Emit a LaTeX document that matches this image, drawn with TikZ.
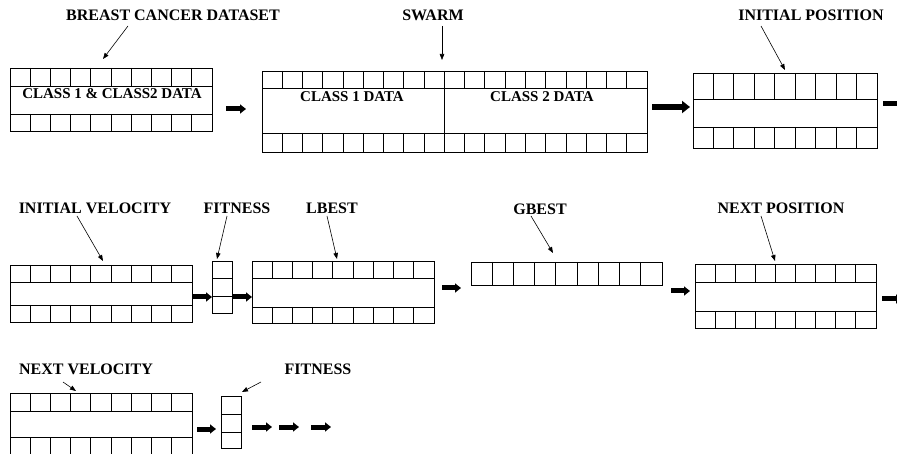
\documentclass[tikz,border=0pt]{standalone}
\usepackage{fontspec}
\setmainfont{Liberation Serif}
\usetikzlibrary{arrows.meta,fit}
\tikzset{
 frame/.style={draw=black, line width=0.9pt},
 cellline/.style={draw=black, line width=0.9pt},
 lbl/.style={font=\fontsize{16}{18}\selectfont\bfseries, inner sep=1pt},
 intext/.style={font=\fontsize{15}{17}\selectfont\bfseries, inner sep=1pt},
 ptr/.style={draw=black, line width=0.6pt, -{Triangle[length=6pt,width=4.5pt]}},
 fat/.style={draw=black, line width=5pt, -{Triangle[length=6pt,width=9pt]}},
 fatbig/.style={draw=black, line width=6.5pt, -{Triangle[length=8pt,width=12pt]}},
}
\newcommand\cellbox[8]{%
 \node[fit={(#2,#3) (#4,#5)}, inner sep=0pt, frame] (#1) {};
 \draw[cellline] (#2,#6) -- (#4,#6) (#2,#7) -- (#4,#7);
 \pgfmathtruncatemacro\nm{#8-1}
 \foreach \i in {1,...,\nm} {
   \pgfmathsetmacro\xx{#2+\i*(#4-#2)/#8}
   \draw[cellline] (\xx,#3) -- (\xx,#6) (\xx,#7) -- (\xx,#5);
 }
}
\begin{document}
\begin{tikzpicture}[x=1pt,y=-1pt]
\clip (0,0) rectangle (897,454);
\fill[white] (0,0) rectangle (897,454);

% ---- row 1 ----
\cellbox{b1}{10}{68}{212}{131}{86}{114}{10}
\node[intext] (t1) at (112,94) {CLASS 1 \& CLASS2 DATA};
\cellbox{b2}{262}{71}{647}{152}{88}{133}{19}
\draw[cellline] (444.4,88) -- (444.4,133);
\node[intext] (t2) at (352,97) {CLASS 1 DATA};
\node[intext] (t3) at (542,97) {CLASS 2 DATA};
\cellbox{b3}{693}{73}{877}{148}{99}{127}{9}

\node[lbl] (l1) at (173,15) {BREAST CANCER DATASET};
\node[lbl] (l2) at (433,15) {SWARM};
\node[lbl] (l3) at (811,15) {INITIAL POSITION};

\coordinate (p1a) at (128,26); \coordinate (p1b) at (103,59);
\coordinate (p2a) at (442,26); \coordinate (p2b) at (442,60);
\coordinate (p3a) at (761,26); \coordinate (p3b) at (785,70);
\draw[ptr] (p1a) -- (p1b);
\draw[ptr] (p2a) -- (p2b);
\draw[ptr] (p3a) -- (p3b);

\coordinate (f1a) at (226,109); \coordinate (f1b) at (246,109);
\coordinate (f2a) at (652,107); \coordinate (f2b) at (690,107);
\coordinate (f3a) at (883,104); \coordinate (f3b) at (903,104);
\draw[fat] (f1a) -- (f1b);
\draw[fatbig] (f2a) -- (f2b);
\draw[fat] (f3a) -- (f3b);

% ---- row 2 ----
\cellbox{b4}{10}{265}{192}{322}{282}{305}{9}
\node[fit={(212,261) (232,313)}, inner sep=0pt, frame] (fit1) {};
\draw[cellline] (212,278) -- (232,278) (212,296) -- (232,296);
\cellbox{b5}{252}{261}{434}{323}{278}{307}{9}
\node[fit={(471,262) (662,285)}, inner sep=0pt, frame] (b6) {};
\foreach \i in {1,...,8} {
  \pgfmathsetmacro\xx{471+\i*191/9}
  \draw[cellline] (\xx,262) -- (\xx,285);
}
\cellbox{b7}{695}{264}{876}{328}{282}{311}{9}

\node[lbl] (l4) at (95,208) {INITIAL VELOCITY};
\node[lbl] (l5) at (237,208) {FITNESS};
\node[lbl] (l6) at (332,208) {LBEST};
\node[lbl] (l7) at (540,209) {GBEST};
\node[lbl] (l8) at (781,208) {NEXT POSITION};

\coordinate (p4a) at (77,216); \coordinate (p4b) at (103,261);
\coordinate (p5a) at (227,216); \coordinate (p5b) at (217,259);
\coordinate (p6a) at (327,216); \coordinate (p6b) at (337,259);
\coordinate (p7a) at (531,216); \coordinate (p7b) at (553,253);
\coordinate (p8a) at (761,216); \coordinate (p8b) at (775,261);
\draw[ptr] (p4a) -- (p4b);
\draw[ptr] (p5a) -- (p5b);
\draw[ptr] (p6a) -- (p6b);
\draw[ptr] (p7a) -- (p7b);
\draw[ptr] (p8a) -- (p8b);

\coordinate (f4a) at (192,297); \coordinate (f4b) at (212,297);
\coordinate (f5a) at (233,297); \coordinate (f5b) at (252,297);
\coordinate (f6a) at (442,288); \coordinate (f6b) at (461,288);
\coordinate (f7a) at (671,291); \coordinate (f7b) at (690,291);
\coordinate (f8a) at (882,299); \coordinate (f8b) at (902,299);
\draw[fat] (f4a) -- (f4b);
\draw[fat] (f5a) -- (f5b);
\draw[fat] (f6a) -- (f6b);
\draw[fat] (f7a) -- (f7b);
\draw[fat] (f8a) -- (f8b);

% ---- row 3 ----
\cellbox{b8}{10}{393}{192}{470}{411}{437}{9}
\node[fit={(221,396) (241,448)}, inner sep=0pt, frame] (fit2) {};
\draw[cellline] (221,414) -- (241,414) (221,432) -- (241,432);

\node[lbl] (l9) at (86,369) {NEXT VELOCITY};
\node[lbl] (l10) at (318,369) {FITNESS};

\coordinate (p9a) at (63,382); \coordinate (p9b) at (76,391);
\coordinate (p10a) at (261,382); \coordinate (p10b) at (242,392);
\draw[ptr] (p9a) -- (p9b);
\draw[ptr] (p10a) -- (p10b);

\coordinate (f9a) at (197,429); \coordinate (f9b) at (216,429);
\coordinate (f10a) at (252,427); \coordinate (f10b) at (272,427);
\coordinate (f11a) at (279,427); \coordinate (f11b) at (299,427);
\coordinate (f12a) at (311,427); \coordinate (f12b) at (331,427);
\draw[fat] (f9a) -- (f9b);
\draw[fat] (f10a) -- (f10b);
\draw[fat] (f11a) -- (f11b);
\draw[fat] (f12a) -- (f12b);
\end{tikzpicture}
\end{document}
